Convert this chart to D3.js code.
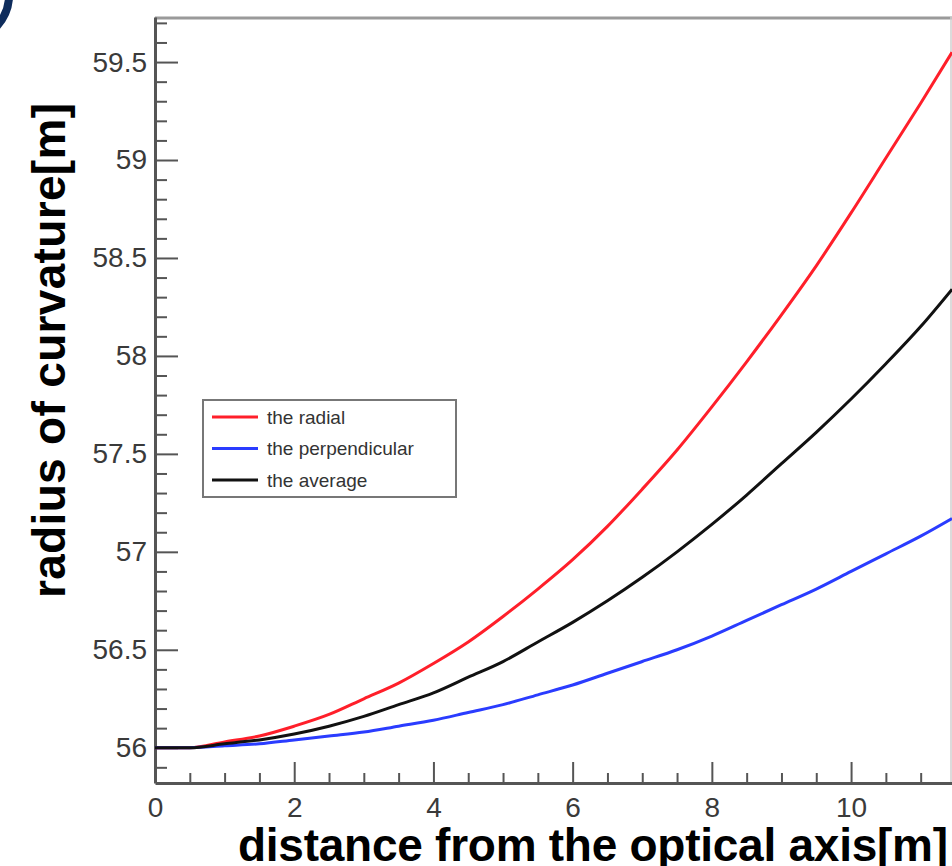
<!DOCTYPE html>
<html lang="en">
<head>
    <meta charset="UTF-8">
    <title>radius of curvature</title>
    <script src="https://d3js.org/d3.v7.min.js"></script>
    <style>
        body { margin: 0; background: #fff; }
        svg { display: block; }
        text { font-family: "Liberation Sans", Arial, Helvetica, sans-serif; }
    </style>
</head>
<body>
<svg id="plot" width="952" height="866"></svg>

<script>
    // distance from the optical axis [m]
    const dist = [0, 0.5, 1, 1.5, 2, 2.5, 3, 3.5, 4, 4.5, 5, 5.5, 6, 6.5, 7, 7.5, 8, 8.5, 9, 9.5, 10, 10.5, 11, 11.45];
    // radius of curvature [m]
    const radial = [56.00, 56.00, 56.03, 56.06, 56.11, 56.17, 56.25, 56.33, 56.43, 56.54, 56.67, 56.81, 56.96, 57.13, 57.32, 57.52, 57.74, 57.97, 58.21, 58.46, 58.73, 59.01, 59.29, 59.55];
    const perpendicular = [56.00, 56.00, 56.01, 56.02, 56.04, 56.06, 56.08, 56.11, 56.14, 56.18, 56.22, 56.27, 56.32, 56.38, 56.44, 56.50, 56.57, 56.65, 56.73, 56.81, 56.90, 56.99, 57.08, 57.17];
    const average = [56.00, 56.00, 56.02, 56.04, 56.07, 56.11, 56.16, 56.22, 56.28, 56.36, 56.44, 56.54, 56.64, 56.75, 56.87, 57.00, 57.14, 57.29, 57.45, 57.61, 57.78, 57.96, 58.15, 58.34];

    const seriesNames = ["the radial", "the perpendicular", "the average"];
    const seriesColors = ["#ff1f2a", "#2a3cff", "#111111"];

    const xTicks = [0, 2, 4, 6, 8, 10];
    const yTicks = [56, 56.5, 57, 57.5, 58, 58.5, 59, 59.5];

    const padLeft = 155, padRight = 952, padTop = 17, padBottom = 783;

    const svg = d3.select("#plot");

    const x = d3.scaleLinear().domain([0, 11.45]).range([padLeft, padRight]);
    const y = d3.scaleLinear().domain([55.82, 59.73]).range([padBottom, padTop]);

    // small dark arc in the corner (crop leftover)
    svg.append("path")
        .attr("d", "M 9 -2 Q 8 14 -3 26")
        .attr("fill", "none")
        .attr("stroke", "#0e2c5c")
        .attr("stroke-width", 8);

    // frame top/right
    svg.append("line")
        .attr("x1", x(0)).attr("x2", padRight)
        .attr("y1", padTop + 1).attr("y2", padTop + 1)
        .attr("stroke", "#9a9a9a").attr("stroke-width", 3);
    svg.append("line")
        .attr("x1", padRight - 1).attr("x2", padRight - 1)
        .attr("y1", padTop).attr("y2", padBottom)
        .attr("stroke", "#cfcfcf").attr("stroke-width", 1.5);

    // minor ticks
    const xMinor = d3.range(1, 23).map(i => i / 2).filter(v => v % 2 !== 0);
    const yMinor = d3.range(559, 598).map(i => i / 10).filter(v => Math.round(v * 10) % 5 !== 0);

    svg.append("g")
        .attr("transform", "translate(0," + padBottom + ")")
        .call(d3.axisBottom(x).tickValues(xMinor).tickSize(-10).tickSizeOuter(0).tickFormat(""))
        .call(g => g.select(".domain").remove());
    svg.append("g")
        .attr("transform", "translate(" + padLeft + ",0)")
        .call(d3.axisLeft(y).tickValues(yMinor).tickSize(-12).tickSizeOuter(0).tickFormat(""))
        .call(g => g.select(".domain").remove());

    // major axes
    const gx = svg.append("g")
        .attr("transform", "translate(0," + padBottom + ")")
        .call(d3.axisBottom(x).tickValues(xTicks).tickSize(-21).tickSizeOuter(0).tickPadding(14).tickFormat(d3.format("d")));
    const gy = svg.append("g")
        .attr("transform", "translate(" + padLeft + ",0)")
        .call(d3.axisLeft(y).tickValues(yTicks).tickSize(-23).tickSizeOuter(0).tickPadding(8).tickFormat(d => String(d)));

    svg.selectAll(".tick line").attr("stroke", "#555").attr("stroke-width", 2);
    [gx, gy].forEach(g => {
        g.select(".domain").attr("stroke", "#555").attr("stroke-width", 3);
        g.selectAll(".tick text")
            .attr("fill", "#3a3a3a")
            .style("font-size", "28px")
            .style("font-family", "'Liberation Sans', Arial, sans-serif");
    });

    // curves
    const line = d3.line()
        .x((d, i) => x(dist[i]))
        .y(d => y(d))
        .curve(d3.curveMonotoneX);

    const series = [radial, perpendicular, average];
    svg.append("g")
        .selectAll("path")
        .data(series).enter()
        .append("path")
        .attr("d", d => line(d))
        .attr("fill", "none")
        .attr("stroke", (d, i) => seriesColors[i])
        .attr("stroke-width", 3);

    // legend
    const lg = svg.append("g").attr("transform", "translate(203,400)");
    lg.append("rect")
        .attr("width", 253).attr("height", 97)
        .attr("fill", "#fff")
        .attr("stroke", "#777").attr("stroke-width", 2);
    const rows = lg.selectAll("g.row")
        .data(seriesNames).enter()
        .append("g")
        .attr("class", "row")
        .attr("transform", (d, i) => "translate(0," + (17 + i * 31.5) + ")");
    rows.append("line")
        .attr("x1", 9).attr("x2", 55)
        .attr("stroke", (d, i) => seriesColors[i])
        .attr("stroke-width", 3);
    rows.append("text")
        .attr("x", 64).attr("dy", "0.35em")
        .attr("fill", "#333")
        .style("font-size", "19px")
        .text(d => d);

    // axis titles
    svg.append("text")
        .attr("x", 238).attr("y", 861)
        .attr("textLength", 710)
        .style("font-size", "46px").style("font-weight", "bold")
        .attr("fill", "#000")
        .text("distance from the optical axis[m]");

    svg.append("text")
        .attr("transform", "translate(65,598) rotate(-90)")
        .attr("textLength", 495)
        .style("font-size", "46px").style("font-weight", "bold")
        .attr("fill", "#000")
        .text("radius of curvature[m]");
</script>
</body>
</html>
